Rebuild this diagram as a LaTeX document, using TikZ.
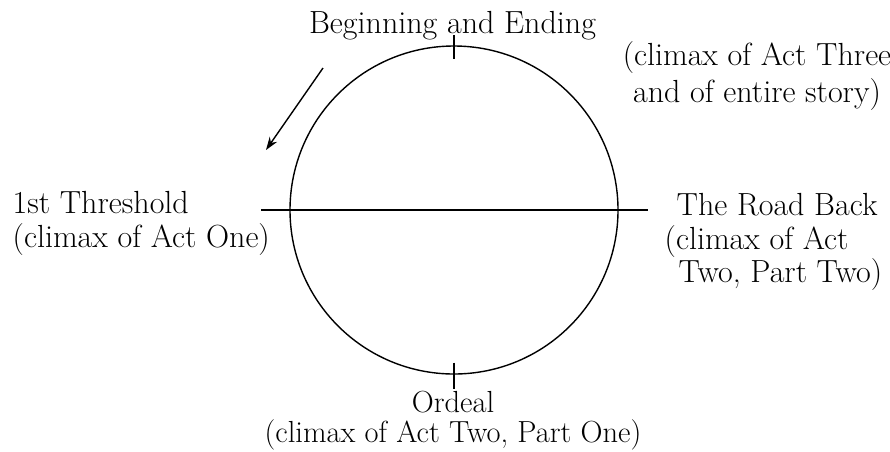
\documentclass[tikz,border=0pt]{standalone}
\usetikzlibrary{arrows.meta}
\newcommand{\lblfont}{\fontsize{32}{37}\selectfont}

\begin{document}
\begin{tikzpicture}[x=1pt, y=-1pt, line width=1.4pt, every node/.style={inner sep=0pt, font=\lblfont}]
    \useasboundingbox (0,0) rectangle (890,451);
    \node[circle, draw, minimum size=328pt] (cycle) at (454,210) {};
    \node[anchor=base] (begin) at (452.5,33) {Beginning and Ending};
    \node[anchor=north, align=center] (act3) at (757,41) {(climax of Act Three\\and of entire story)};
    \node[anchor=north west, align=left] (threshold) at (12,191) {1st Threshold\\[-3pt](climax of Act One)};
    \node[anchor=north west, align=left] (roadback) at (664,193) {\hspace*{12pt}The Road Back\\[-3pt](climax of Act\\[-4pt]\hspace*{14pt}Two, Part Two)};
    \node[anchor=north, align=center, font=\fontsize{30.5}{36}\selectfont] (ordeal) at (453,390) {Ordeal\\[-6pt](climax of Act Two, Part One)};
    \coordinate (from) at (323,68);
    \coordinate (to) at (266,150);
        \draw ([xshift=-28pt]cycle.west) -- ([xshift=29pt]cycle.east);
        \draw ([yshift=10pt]cycle.north) -- ([yshift=-14pt]cycle.north);
        \draw ([yshift=12pt]cycle.south) -- ([yshift=-14pt]cycle.south);
        \draw[-{Stealth[length=13pt, width=9pt]}] (from) -- (to);
\end{tikzpicture}
\end{document}
